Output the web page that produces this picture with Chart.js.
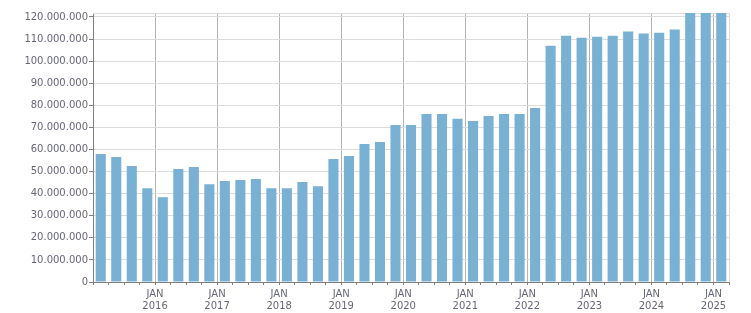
<!DOCTYPE html>
<html>
<head>
<meta charset="utf-8">
<script src="https://cdn.jsdelivr.net/npm/chart.js@4"></script>
<style>
  html, body { margin: 0; padding: 0; background: #fff; }
  #wrap { width: 751px; height: 313px; }
</style>
</head>
<body>
<div id="wrap"><canvas id="chart" width="751" height="313"></canvas></div>
<script>
const quarters = [
  "2015 Q1", "2015 Q2", "2015 Q3", "2015 Q4",
  "2016 Q1", "2016 Q2", "2016 Q3", "2016 Q4",
  "2017 Q1", "2017 Q2", "2017 Q3", "2017 Q4",
  "2018 Q1", "2018 Q2", "2018 Q3", "2018 Q4",
  "2019 Q1", "2019 Q2", "2019 Q3", "2019 Q4",
  "2020 Q1", "2020 Q2", "2020 Q3", "2020 Q4",
  "2021 Q1", "2021 Q2", "2021 Q3", "2021 Q4",
  "2022 Q1", "2022 Q2", "2022 Q3", "2022 Q4",
  "2023 Q1", "2023 Q2", "2023 Q3", "2023 Q4",
  "2024 Q1", "2024 Q2", "2024 Q3", "2024 Q4",
  "2025 Q1"
];

const values = [
  58000000, 56600000, 52500000, 42500000,
  38400000, 51200000, 52100000, 44300000,
  45700000, 46200000, 46600000, 42500000,
  42500000, 45300000, 43400000, 55700000,
  57100000, 62500000, 63400000, 71100000,
  71100000, 76100000, 76100000, 73900000,
  72900000, 75200000, 76100000, 76100000,
  78800000, 107000000, 111500000, 110600000,
  111000000, 111500000, 113400000, 112500000,
  112900000, 114300000, 126000000, 128000000,
  130000000
];

const yearTicks = [2016, 2017, 2018, 2019, 2020, 2021, 2022, 2023, 2024, 2025];
const monthTick = "JAN";
const yTicks = [
  0, 10000000, 20000000, 30000000, 40000000, 50000000, 60000000,
  70000000, 80000000, 90000000, 100000000, 110000000, 120000000
];
const yMax = 121800000;

const textColor = "#66667a";
const axisColor = "#808080";

function formatDots(v) {
  return String(v).replace(/\B(?=(\d{3})+(?!\d))/g, ".");
}

const topBorder = {
  id: "topBorder",
  beforeDatasetsDraw(chart) {
    const { ctx, chartArea } = chart;
    ctx.save();
    ctx.strokeStyle = "#dcdcdc";
    ctx.lineWidth = 1;
    ctx.beginPath();
    ctx.moveTo(chartArea.left, Math.round(chartArea.top) + 0.5);
    ctx.lineTo(chartArea.right, Math.round(chartArea.top) + 0.5);
    ctx.stroke();
    ctx.restore();
  },
};

new Chart(document.getElementById("chart").getContext("2d"), {
  type: "bar",
  data: {
    labels: quarters,
    datasets: [
      {
        label: "Value",
        data: values.map((v, i) => ({ x: i + 0.5, y: v })),
        backgroundColor: "#78b1d3",
        borderWidth: 0,
        barPercentage: 0.65,
        categoryPercentage: 1,
      },
    ],
  },
  options: {
    responsive: false,
    animation: false,
    layout: { padding: { top: 13, right: 22, left: 0, bottom: 0 } },
    plugins: {
      legend: { display: false },
      tooltip: { enabled: false },
    },
    scales: {
      x: {
        type: "linear",
        min: 0,
        max: quarters.length,
        offset: false,
        afterFit: (axis) => { axis.height = 31; },
        grid: {
          offset: false,
          color: (ctx) => {
            const v = ctx.tick ? ctx.tick.value : -1;
            if (v === quarters.length) return "#dcdcdc";
            if (v > 0 && v % 4 === 0) return "#b4b4b4";
            return "rgba(0,0,0,0)";
          },
          tickColor: axisColor,
          tickLength: 3,
        },
        border: { color: axisColor },
        ticks: {
          stepSize: 1,
          autoSkip: false,
          maxRotation: 0,
          padding: 3,
          color: textColor,
          font: { family: "DejaVu Sans", size: 10, lineHeight: 1.2 },
          callback: (v) => {
            if (v > 0 && v % 4 === 0 && yearTicks[v / 4 - 1]) {
              return [monthTick, String(yearTicks[v / 4 - 1])];
            }
            return "";
          },
        },
      },
      y: {
        min: 0,
        max: yMax,
        afterFit: (axis) => { axis.width = 93; },
        afterBuildTicks: (axis) => {
          axis.ticks = yTicks.map((v) => ({ value: v }));
        },
        grid: {
          color: "#dcdcdc",
          tickColor: axisColor,
          tickLength: 4,
        },
        border: { color: axisColor },
        ticks: {
          padding: 1,
          color: textColor,
          font: { family: "DejaVu Sans", size: 10 },
          callback: (v) => formatDots(v),
        },
      },
    },
  },
  plugins: [topBorder],
});
</script>
</body>
</html>
